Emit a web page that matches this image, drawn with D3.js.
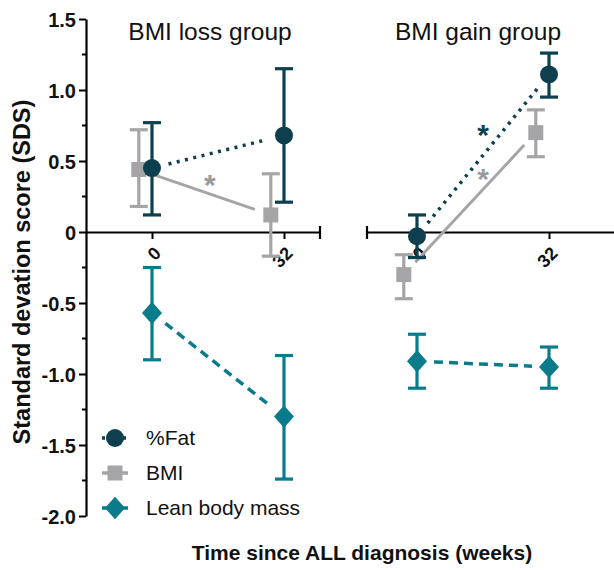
<!DOCTYPE html>
<html><head><meta charset="utf-8">
<script src="https://cdn.jsdelivr.net/npm/d3@7"></script>
<style>body{margin:0;background:#fff}svg{display:block;font-family:"Liberation Sans",Arial,sans-serif}</style>
</head><body><svg id="c" width="614" height="570"></svg>
<script>
// ---- data ----
const weeks = [0, 32];
const groups = ["BMI loss group", "BMI gain group"];
const fatMean = [[0.45, 0.68], [-0.03, 1.11]];
const fatLo   = [[0.12, 0.21], [-0.18, 0.95]];
const fatHi   = [[0.77, 1.15], [0.12, 1.26]];
const bmiMean = [[0.44, 0.12], [-0.30, 0.70]];
const bmiLo   = [[0.18, -0.17], [-0.47, 0.53]];
const bmiHi   = [[0.72, 0.41], [-0.16, 0.86]];
const leanMean = [[-0.57, -1.30], [-0.91, -0.95]];
const leanLo   = [[-0.90, -1.74], [-1.10, -1.10]];
const leanHi   = [[-0.25, -0.87], [-0.72, -0.81]];
const yTicks = [1.5, 1.0, 0.5, 0, -0.5, -1.0, -1.5, -2.0];
const yTickLabels = ["1.5", "1.0", "0.5", "0", "-0.5", "-1.0", "-1.5", "-2.0"];
const legendLabels = ["%Fat", "BMI", "Lean body mass"];
// significance markers: [panel, series, x(week), y]
const stars = [[0, "bmi", 14, 0.36], [1, "fat", 16, 0.71], [1, "bmi", 16, 0.40]];

const colFat = "#0d3f4e", colBmi = "#a5a5a8", colLean = "#097b8b";
const svg = d3.select("#c");
const y = d3.scaleLinear().domain([-2, 1.5]).range([516, 19]);
const xs = [
  d3.scaleLinear().domain([-16, 40.73]).range([86, 320]),
  d3.scaleLinear().domain([-12.12, 47.76]).range([367, 614])
];
const bmiDodge = -3.2;

// y axis
const yAxis = d3.axisLeft(y).tickValues(yTicks).tickSize(7).tickSizeOuter(0)
  .tickFormat((d, i) => yTickLabels[i]);
const ga = svg.append("g").attr("transform", "translate(86,0)").call(yAxis);
ga.select(".domain").attr("stroke", "#000").attr("stroke-width", 2.2);
ga.selectAll(".tick line").attr("stroke", "#000").attr("stroke-width", 2);
ga.selectAll(".tick text").attr("font-size", 20).attr("font-weight", "bold")
  .attr("fill", "#111").attr("x", -10).attr("dy", "0.36em").attr("font-family", "Liberation Sans, Arial, sans-serif");
// minor ticks
const minor = d3.range(-1.75, 1.5, 0.5);
svg.append("g").selectAll("line").data(minor).join("line")
  .attr("x1", 82).attr("x2", 86).attr("y1", d => y(d)).attr("y2", d => y(d))
  .attr("stroke", "#000").attr("stroke-width", 2);

// x axes
xs.forEach((x, p) => {
  const ax = d3.axisBottom(x).tickValues(weeks).tickSize(7).tickSizeOuter(0).tickFormat(d3.format("d"));
  const g = svg.append("g").attr("transform", `translate(0,${y(0)})`).call(ax);
  g.select(".domain").attr("stroke", "#000").attr("stroke-width", 2.2);
  g.selectAll(".tick line").attr("stroke", "#000").attr("stroke-width", 2);
  g.selectAll(".tick text").attr("font-size", 18).attr("font-weight", "bold").attr("fill", "#111")
    .attr("font-family", "Liberation Sans, Arial, sans-serif")
    .attr("text-anchor", "end").attr("dy", "0.35em")
    .attr("transform", "translate(5,18) rotate(-45)").attr("y", 0).attr("x", 0);
  const capX = p === 0 ? x.range()[1] : x.range()[0];
  svg.append("line").attr("x1", capX).attr("x2", capX).attr("y1", y(0) - 6).attr("y2", y(0) + 7)
    .attr("stroke", "#000").attr("stroke-width", 2.2);
  // title
  svg.append("text").attr("x", p === 0 ? 210 : 478).attr("y", 40).attr("text-anchor", "middle")
    .attr("font-size", 24.5).attr("fill", "#111").text(groups[p]);
});

function shorten(x1, y1, x2, y2, s) {
  const dx = x2 - x1, dy = y2 - y1, L = Math.hypot(dx, dy);
  const ux = dx / L, uy = dy / L;
  return [x1 + ux * s, y1 + uy * s, x2 - ux * s, y2 - uy * s];
}
const series = [
  {key: "fat", mean: fatMean, lo: fatLo, hi: fatHi, col: colFat, dash: "3,5.5", dodge: 0, shape: "circle"},
  {key: "bmi", mean: bmiMean, lo: bmiLo, hi: bmiHi, col: colBmi, dash: null, dodge: bmiDodge, shape: "square"},
  {key: "lean", mean: leanMean, lo: leanLo, hi: leanHi, col: colLean, dash: "9,6", dodge: 0, shape: "diamond"}
];
const symbols = {circle: d3.symbol(d3.symbolCircle, 254), square: d3.symbol(d3.symbolSquare, 225), diamond: d3.symbol(d3.symbolSquare, 200)};
const shapeTf = (shape, cx, cy) => `translate(${cx},${cy})` + (shape === "diamond" ? " scale(1,1.12) rotate(45)" : "");

// connecting lines
xs.forEach((x, p) => {
  series.forEach(s => {
    const pts = weeks.map((w, i) => [x(w + s.dodge), y(s.mean[p][i])]);
    const c = shorten(pts[0][0], pts[0][1], pts[1][0], pts[1][1], 17);
    const ln = svg.append("line").attr("x1", c[0]).attr("y1", c[1]).attr("x2", c[2]).attr("y2", c[3])
      .attr("stroke", s.col).attr("stroke-width", s.key === "bmi" ? 3 : 3.5);
    if (s.dash) ln.attr("stroke-dasharray", s.dash);
  });
});
// error bars + markers (BMI first so others on top)
[series[1], series[0], series[2]].forEach(s => {
  xs.forEach((x, p) => {
    weeks.forEach((w, i) => {
      const cx = x(w + s.dodge);
      const g = svg.append("g").attr("stroke", s.col).attr("stroke-width", 3.2);
      g.append("line").attr("x1", cx).attr("x2", cx).attr("y1", y(s.lo[p][i])).attr("y2", y(s.hi[p][i]));
      g.append("line").attr("x1", cx - 9).attr("x2", cx + 9).attr("y1", y(s.lo[p][i])).attr("y2", y(s.lo[p][i]));
      g.append("line").attr("x1", cx - 9).attr("x2", cx + 9).attr("y1", y(s.hi[p][i])).attr("y2", y(s.hi[p][i]));
      svg.append("path").attr("d", symbols[s.shape]()).attr("fill", s.col)
        .attr("transform", shapeTf(s.shape, cx, y(s.mean[p][i])));
    });
  });
});

// significance stars
stars.forEach(([p, k, w, v]) => {
  svg.append("text").attr("x", xs[p](w)).attr("y", y(v) + 14).attr("text-anchor", "middle")
    .attr("font-size", 30).attr("font-weight", "bold")
    .attr("fill", k === "bmi" ? "#999" : colFat).text("*");
});

// axis titles
svg.append("text").attr("transform", "translate(30,272) rotate(-90)").attr("text-anchor", "middle")
  .attr("font-size", 23.5).attr("font-weight", "bold").attr("fill", "#111").text("Standard devation score (SDS)");
svg.append("text").attr("x", 362).attr("y", 560).attr("text-anchor", "middle")
  .attr("font-size", 21).attr("font-weight", "bold").attr("fill", "#111").text("Time since ALL diagnosis (weeks)");

// legend
const leg = svg.append("g");
series.forEach((s, i) => {
  const ly = 438 + i * 35;
  const ln = leg.append("line").attr("x1", 102).attr("x2", 128).attr("y1", ly).attr("y2", ly)
    .attr("stroke", s.col).attr("stroke-width", 3.5);
  if (s.key === "fat") ln.attr("stroke-dasharray", "3,4");
  leg.append("path").attr("d", symbols[s.shape]()).attr("fill", s.col)
    .attr("transform", shapeTf(s.shape, 115, ly));
  leg.append("text").attr("x", 146).attr("y", ly + 7).attr("font-size", 21).attr("fill", "#111").text(legendLabels[i]);
});
</script></body></html>
